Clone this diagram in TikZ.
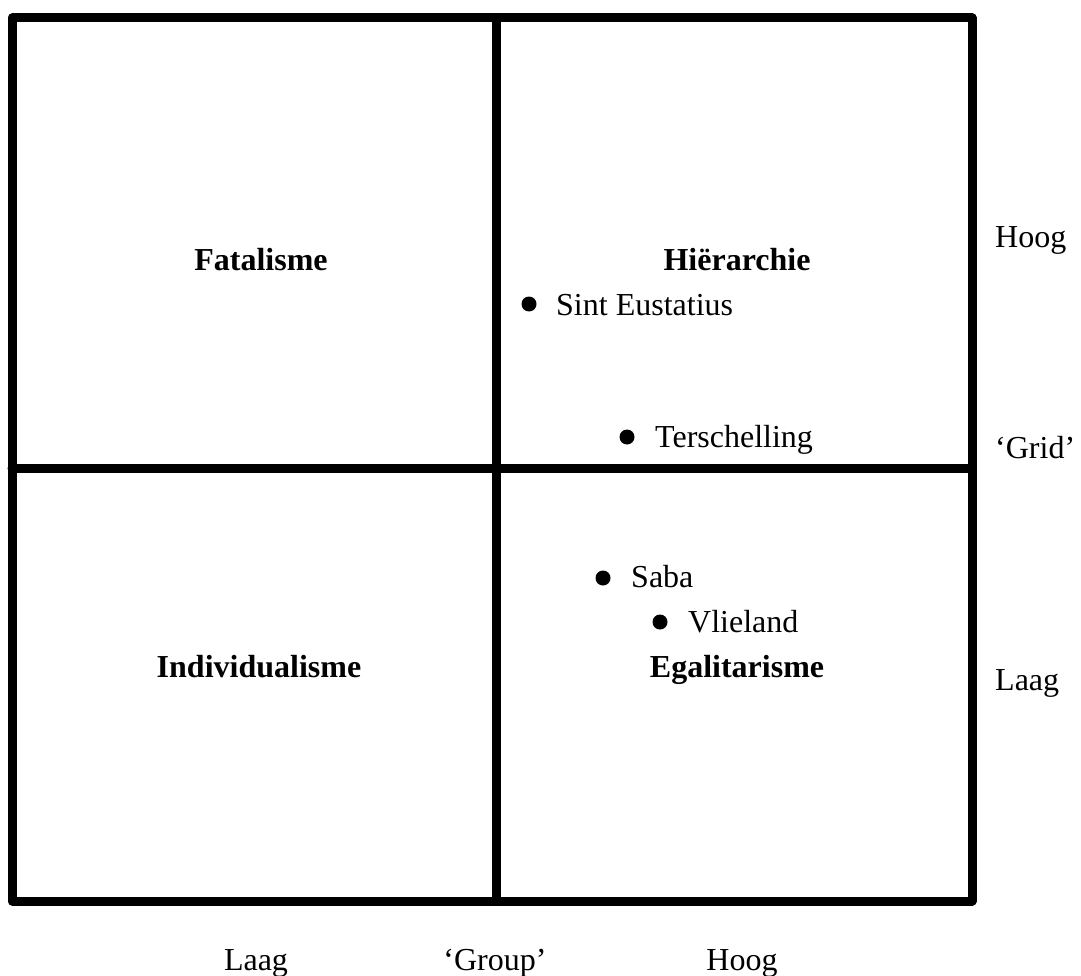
\documentclass[tikz,border=0pt]{standalone}
\usepackage{fontspec}
\setmainfont{Liberation Serif}
\begin{document}
\begin{tikzpicture}[x=1pt,y=-1pt,
  gridline/.style={line width=9pt,line cap=round,line join=round,black},
  lbl/.style={inner sep=0pt,font=\fontsize{32}{38}\selectfont},
  cat/.style={inner sep=0pt,anchor=base,font=\fontsize{32}{38}\selectfont\bfseries},
  dot/.style={circle,fill=black,inner sep=0pt,minimum size=15pt}]
\useasboundingbox[fill=white] (0,0) rectangle (1081,976);
% corners
\coordinate (tl) at (12,18);
\coordinate (tm) at (496.5,18);
\coordinate (tr) at (972,18);
\coordinate (ml) at (12,468);
\coordinate (mr) at (972,468);
\coordinate (bl) at (12,901);
\coordinate (bm) at (496.5,901);
\coordinate (br) at (972,901);
\draw[gridline] (tl) -- (tr) -- (br) -- (bl) -- cycle;
\draw[gridline] (tm) -- (bm);
\draw[gridline] (ml) -- (mr);
% categories
\node[cat] (fat) at (261,271) {Fatalisme};
\node[cat] (hier) at (737,271) {Hiërarchie};
\node[cat] (ind) at (259,677) {Individualisme};
\node[cat] (ega) at (737,677) {Egalitarisme};
% points
\node[dot] (d1) at (529,304) {};
\node[lbl,anchor=base west] (t1) at (556,315) {Sint Eustatius};
\node[dot] (d2) at (627,437) {};
\node[lbl,anchor=base west] (t2) at (655,447) {Terschelling};
\node[dot] (d3) at (603,578) {};
\node[lbl,anchor=base west] (t3) at (631,587) {Saba};
\node[dot] (d4) at (660,622) {};
\node[lbl,anchor=base west] (t4) at (688,632) {Vlieland};
% axis labels
\node[lbl,anchor=base west] (hr) at (995,248) {Hoog};
\node[lbl,anchor=base west] (gr) at (995,458) {‘Grid’};
\node[lbl,anchor=base west] (lr) at (995,690) {Laag};
\node[lbl,anchor=base] (lb) at (256,970) {Laag};
\node[lbl,anchor=base] (gb) at (495,970) {‘Group’};
\node[lbl,anchor=base] (hb) at (742,970) {Hoog};
\end{tikzpicture}
\end{document}
